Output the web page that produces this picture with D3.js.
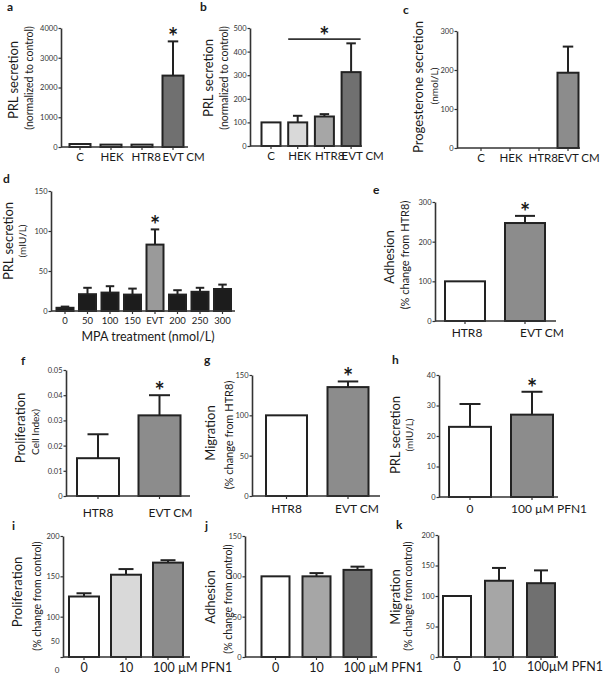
<!DOCTYPE html>
<html>
<head>
<meta charset="utf-8">
<script src="https://cdn.jsdelivr.net/npm/d3@7"></script>
<style>
  body { margin: 0; background: #fff; }
  text { font-family: Lato, "Open Sans", sans-serif; fill: #1a1a1a; }
</style>
</head>
<body>
<svg id="fig" width="603" height="685"></svg>
<script>
// panel a
var aCats = ["C", "HEK", "HTR8", "EVT CM"];
var aMean = [100, 80, 80, 2400];
var aErr = [0, 0, 0, 1150];
var aTicks = [0, 1000, 2000, 3000, 4000];
// panel b
var bCats = ["C", "HEK", "HTR8", "EVT CM"];
var bMean = [100, 100, 125, 313];
var bErr = [0, 28, 10, 122];
var bTicks = [0, 100, 200, 300, 400, 500];
// panel c
var cCats = ["C", "HEK", "HTR8", "EVT CM"];
var cMean = [0, 0, 0, 193];
var cErr = [0, 0, 0, 67];
var cTicks = [0, 100, 200, 300];
// panel d
var dCats = ["0", "50", "100", "150", "EVT", "200", "250", "300"];
var dMean = [4, 21, 23, 20.5, 83, 20.5, 24, 27.5];
var dErr = [1.5, 8, 8, 7.5, 19, 5.5, 5, 5.5];
var dTicks = [0, 50, 100, 150];
// panel e
var eCats = ["HTR8", "EVT CM"];
var eMean = [100, 247];
var eErr = [0, 18];
var eTicks = [0, 100, 200, 300];
// panel f
var fCats = ["HTR8", "EVT CM"];
var fMean = [0.015, 0.032];
var fErr = [0.0095, 0.008];
var fTicks = [0, 0.01, 0.02, 0.03, 0.04, 0.05];
// panel g
var gCats = ["HTR8", "EVT CM"];
var gMean = [100, 135];
var gErr = [0, 7];
var gTicks = [0, 50, 100, 150];
// panel h
var hCats = ["0", "100 µM PFN1"];
var hMean = [23, 27];
var hErr = [7.5, 7.5];
var hTicks = [0, 10, 20, 30, 40];
// panel i
var iCats = ["0", "10", "100 µM PFN1"];
var iMean = [125, 152, 167];
var iErr = [4, 7, 3];
var iTicks = [50, 100, 150, 200];
// panel j
var jCats = ["0", "10", "100 µM PFN1"];
var jMean = [100, 100, 108];
var jErr = [0, 4, 4];
var jTicks = [0, 50, 100, 150];
// panel k
var kCats = ["0", "10", "100µM PFN1"];
var kMean = [100, 125, 121];
var kErr = [0, 21, 21];
var kTicks = [0, 50, 100, 150, 200];

var W = "#ffffff", L = "#d9d9d9", M = "#a6a6a6", G = "#8c8c8c", D = "#707070", K = "#1c1c1c";

var svg = d3.select("#fig");

function panel(p) {
  var g = svg.append("g");
  var n = p.cats.length;
  var pad = 1 - p.w / p.step;
  var x = d3.scaleBand().domain(p.cats)
    .range([p.c0 - p.step / 2, p.c0 - p.step / 2 + n * p.step])
    .paddingInner(pad).paddingOuter(pad / 2);
  var y = d3.scaleLinear().domain(p.dom).range([p.base, p.top]);
  var bw = x.bandwidth();
  var cx = function(d) { return x(d.c) + bw / 2; };
  var rows = p.cats.map(function(c, i) {
    return {c: c, v: p.mean[i], e: p.err[i], f: p.fill[i], i: i};
  });

  // error bars (drawn first, bar outline covers the foot)
  var eb = g.selectAll(".eb").data(rows.filter(function(d) { return d.e > 0; }))
    .enter().append("g").attr("stroke", "#222").attr("stroke-width", 2);
  eb.append("line").attr("x1", cx).attr("x2", cx)
    .attr("y1", function(d) { return y(d.v); })
    .attr("y2", function(d) { return y(d.v + d.e); });
  eb.append("line")
    .attr("x1", function(d) { return cx(d) - bw * 0.25; })
    .attr("x2", function(d) { return cx(d) + bw * 0.25; })
    .attr("y1", function(d) { return y(d.v + d.e); })
    .attr("y2", function(d) { return y(d.v + d.e); });

  g.selectAll(".bar").data(rows.filter(function(d) { return d.v > 0; }))
    .enter().append("rect")
    .attr("x", function(d) { return x(d.c); })
    .attr("y", function(d) { return y(d.v); })
    .attr("width", bw)
    .attr("height", function(d) { return y(p.dom[0]) - y(d.v); })
    .attr("fill", function(d) { return d.f; })
    .attr("stroke", "#222").attr("stroke-width", 2);

  // y axis
  var ya = g.append("g").attr("transform", "translate(" + p.ax + ",0)")
    .call(d3.axisLeft(y).tickValues(p.ticks).tickSize(2.5).tickPadding(1).tickSizeOuter(0)
      .tickFormat(p.fmt || d3.format("d")));
  ya.select(".domain").attr("stroke", "#333").attr("stroke-width", 1.6);
  ya.selectAll(".tick line").attr("stroke", "#333").attr("stroke-width", 1.2);
  ya.selectAll("text").attr("font-family", "'Liberation Sans', Arial, sans-serif")
    .attr("font-size", 7.5).style("fill", "#333");
  if (p.lift50) {
    ya.selectAll(".tick").filter(function(d) { return d === 50; })
      .select("text").attr("dy", "-1.8em");
  }

  // x axis line and small ticks
  g.append("line").attr("x1", p.ax).attr("x2", p.xEnd)
    .attr("y1", p.base).attr("y2", p.base)
    .attr("stroke", "#333").attr("stroke-width", 1.6);
  g.selectAll(".xt").data(rows).enter().append("line")
    .attr("x1", cx).attr("x2", cx)
    .attr("y1", p.base).attr("y2", p.base + 3)
    .attr("stroke", "#333").attr("stroke-width", 1.2);

  // category labels
  g.selectAll(".xl").data(rows).enter().append("text")
    .attr("x", function(d) {
      if (p.anchor === "start" && d.c.length > 2) return x(d.c);
      return cx(d) + (p.dx ? p.dx[d.i] : 0);
    })
    .attr("text-anchor", function(d) {
      return (p.anchor === "start" && d.c.length > 2) ? "start" : "middle";
    })
    .attr("y", p.ly)
    .attr("font-size", p.lfs)
    .text(function(d) { return d.c; });

  // axis titles
  g.append("text").attr("transform", "translate(" + p.title[1] + "," + p.title[2] + ") rotate(-90)")
    .attr("text-anchor", "middle").attr("dominant-baseline", "central")
    .attr("font-size", 13).text(p.title[0]);
  g.append("text").attr("transform", "translate(" + p.sub[1] + "," + p.sub[2] + ") rotate(-90)")
    .attr("text-anchor", "middle").attr("dominant-baseline", "central")
    .attr("font-size", p.sub[3]).text(p.sub[0]);

  // panel letter
  g.append("text").attr("x", p.letter[1]).attr("y", p.letter[2])
    .attr("font-family", "'Liberation Sans', Arial, sans-serif")
    .attr("font-weight", "bold").attr("font-size", 12).text(p.letter[0]);

  // significance
  if (p.star != null) {
    var s = rows[p.star];
    g.append("text").attr("x", cx(s)).attr("y", y(s.v + s.e) + 5)
      .attr("text-anchor", "middle")
      .attr("font-family", "'Liberation Sans', Arial, sans-serif")
      .attr("font-weight", "bold").attr("font-size", 24).text("*");
  }
  if (p.sig) {
    var a = rows[p.sig[0]], b = rows[p.sig[1]];
    var x1 = x(a.c), x2 = x(b.c) + bw, yy = y(p.sig[2]);
    g.append("line").attr("x1", x1).attr("x2", x2).attr("y1", yy).attr("y2", yy)
      .attr("stroke", "#333").attr("stroke-width", 1.6);
    g.append("text").attr("x", (x1 + x2) / 2).attr("y", yy + 6)
      .attr("text-anchor", "middle")
      .attr("font-family", "'Liberation Sans', Arial, sans-serif")
      .attr("font-weight", "bold").attr("font-size", 24).text("*");
  }
  if (p.xTitle) {
    g.append("text").attr("x", p.xTitle[1]).attr("y", p.xTitle[2])
      .attr("text-anchor", "middle").attr("font-size", p.xTitle[3]).text(p.xTitle[0]);
  }
  return g;
}

panel({cats: aCats, mean: aMean, err: aErr, fill: [W, W, W, D], dom: [0, 4000], ticks: aTicks,
  base: 147, top: 28, ax: 61, xEnd: 188, c0: 80, step: 31, w: 21, anchor: "start", ly: 161, lfs: 11.5,
  title: ["PRL secretion", 13, 80], sub: ["(normalized to control)", 29, 78, 10.5],
  letter: ["a", 7, 11], star: 3});

panel({cats: bCats, mean: bMean, err: bErr, fill: [W, L, M, D], dom: [0, 500], ticks: bTicks,
  base: 146, top: 28, ax: 250, xEnd: 362, c0: 271, step: 26.7, w: 19, anchor: "start", ly: 160, lfs: 11.5,
  title: ["PRL secretion", 208, 78], sub: ["(normalized to control)", 224, 78, 10.5],
  letter: ["b", 200, 11], sig: [1, 3, 453]});

panel({cats: cCats, mean: cMean, err: cErr, fill: [W, W, W, G], dom: [0, 300], ticks: cTicks,
  base: 148, top: 31, ax: 457, xEnd: 580, c0: 481, step: 29, w: 21, anchor: "start", ly: 162, lfs: 11.5,
  title: ["Progesterone secretion", 418, 87], sub: ["(nmol/L)", 434, 86, 10],
  letter: ["c", 403, 14]});

panel({cats: dCats, mean: dMean, err: dErr, fill: [K, K, K, K, "#9a9a9a", K, K, K], dom: [0, 150], ticks: dTicks,
  base: 311, top: 191, ax: 51, xEnd: 235, c0: 65, step: 22.5, w: 17, anchor: "middle", ly: 324, lfs: 9.5,
  title: ["PRL secretion", 8, 241], sub: ["(mIU/L)", 22, 241, 10],
  letter: ["d", 3, 183], star: 4, xTitle: ["MPA treatment (nmol/L)", 148, 341, 12.5]});

panel({cats: eCats, mean: eMean, err: eErr, fill: [W, G], dom: [0, 300], ticks: eTicks,
  base: 321, top: 202, ax: 435, xEnd: 556, c0: 465, step: 60, w: 40, anchor: "middle", dx: [2, 17], ly: 337, lfs: 12,
  title: ["Adhesion", 389, 257], sub: ["(% change from HTR8)", 404, 255, 11],
  letter: ["e", 373, 194], star: 1});

panel({cats: fCats, mean: fMean, err: fErr, fill: [W, G], dom: [0, 0.05], ticks: fTicks,
  fmt: function(d) { return d === 0 ? "0" : d3.format(".2f")(d); },
  base: 496, top: 370, ax: 66, xEnd: 190, c0: 98, step: 61.5, w: 42, anchor: "middle", dx: [0, 11], ly: 517, lfs: 12,
  title: ["Proliferation", 20, 428], sub: ["Cell Index)", 35, 432, 10],
  letter: ["f", 21, 365], star: 1});

panel({cats: gCats, mean: gMean, err: gErr, fill: [W, G], dom: [0, 150], ticks: gTicks,
  base: 496, top: 375, ax: 252, xEnd: 380, c0: 286.5, step: 61.5, w: 41, anchor: "middle", dx: [0, 9], ly: 513, lfs: 12,
  title: ["Migration", 210, 433], sub: ["(% change from HTR8)", 228, 435, 11],
  letter: ["g", 204, 364], star: 1});

panel({cats: hCats, mean: hMean, err: hErr, fill: [W, G], dom: [0, 40], ticks: hTicks,
  base: 497, top: 375, ax: 439, xEnd: 558, c0: 470, step: 62, w: 42, anchor: "start", ly: 513, lfs: 12,
  title: ["PRL secretion", 395, 435], sub: ["(mIU/L)", 409, 435, 10],
  letter: ["h", 392, 364], star: 1});

var gi = panel({cats: iCats, mean: iMean, err: iErr, fill: [W, L, G], dom: [50, 200], ticks: iTicks,
  base: 657, top: 536, ax: 63, xEnd: 190, c0: 84, step: 42, w: 30, anchor: "start", ly: 672, lfs: 12.5,
  title: ["Proliferation", 17, 592], sub: ["(% change from control)", 37, 596, 10.5],
  letter: ["i", 12, 530], lift50: true});
gi.append("text").attr("x", 57).attr("y", 673).attr("text-anchor", "middle")
  .attr("font-family", "'Liberation Sans', Arial, sans-serif").attr("font-size", 8).style("fill", "#333").text("0");

panel({cats: jCats, mean: jMean, err: jErr, fill: [W, M, D], dom: [0, 150], ticks: jTicks,
  base: 657, top: 536, ax: 245, xEnd: 377, c0: 275.5, step: 41, w: 28, anchor: "start", ly: 672, lfs: 12.5,
  title: ["Adhesion", 210, 597], sub: ["(% change from control)", 228, 599, 10.5],
  letter: ["j", 205, 530]});

panel({cats: kCats, mean: kMean, err: kErr, fill: [W, M, D], dom: [0, 200], ticks: kTicks,
  base: 657, top: 535, ax: 438, xEnd: 558, c0: 457, step: 42, w: 28, anchor: "start", ly: 671, lfs: 12.5,
  title: ["Migration", 395, 597], sub: ["(% change from control)", 408, 596, 10.5],
  letter: ["k", 396, 529]});
</script>
</body>
</html>
